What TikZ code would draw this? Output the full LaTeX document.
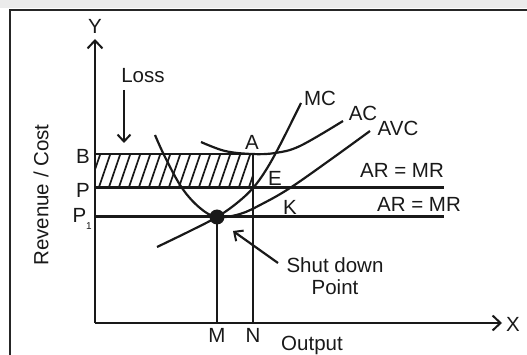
\documentclass[tikz,border=0pt]{standalone}
\usepackage{fontspec}
\setmainfont{Liberation Sans}
\usetikzlibrary{arrows.meta}
\begin{document}
\begin{tikzpicture}[x=1pt,y=-1pt,
  lbl/.style={font=\fontsize{20.5}{22}\selectfont, inner sep=0pt, text=black!90},
  axis/.style={line width=2.2pt, draw=black!90},
  level/.style={line width=3pt, draw=black!90},
  guide/.style={line width=2.2pt, draw=black!90},
  curve/.style={line width=2.2pt, draw=black!90},
  hatch/.style={line width=1.7pt, draw=black!90},
  barb/.style={-{Straight Barb[length=8pt,width=15pt,line width=2pt]}},
  pointer/.style={line width=2.2pt, draw=black!90, -{Straight Barb[length=7pt,width=13pt,line width=2pt]}}]
\useasboundingbox (0,0) rectangle (527,355);
\fill[black!8] (0,0) rectangle (527,8);
% frame
\draw[line width=2.6pt, black!85] (10,355) -- (10,10) -- (527,10);
% coordinates
\coordinate (O) at (95,323);
\coordinate (Ytop) at (95,39);
\coordinate (Xend) at (502,323);
\coordinate (Bl) at (95,154);
\coordinate (A) at (253,154);
\coordinate (Pl) at (95,188);
\coordinate (Pr) at (444,188);
\coordinate (P1l) at (95,217);
\coordinate (P1r) at (444,217);
\coordinate (S) at (217,217);
\coordinate (Mb) at (217,323);
\coordinate (Nb) at (253,323);
% hatched loss area
\begin{scope}
\clip (95,154) rectangle (253,188);
\foreach \i in {0,...,18} \draw[hatch] ({88+10*\i},190) -- ({88+10*\i+13},152);
\end{scope}
\draw[guide] (Bl) -- (A);
% axes
\draw[axis, barb] (O) -- (Ytop);
\draw[axis, barb] (O) -- (Xend);
% price lines
\draw[level] (Pl) -- (Pr);
\draw[level] (P1l) -- (P1r);
% verticals
\draw[guide] (S) -- (Mb);
\draw[guide] (A) -- (Nb);
% curves
\draw[curve] plot[smooth, tension=0.6] coordinates {(157,247) (190,231) (217,217) (237,203) (253,188) (266,170) (280,145) (301,103)};
\draw[curve] plot[smooth, tension=0.6] coordinates {(155,135) (165,157) (182,188) (200,208) (217,217) (240,214) (262,204) (290,188) (330,160) (370,131)};
\draw[curve] plot[smooth, tension=0.6] coordinates {(201,142) (225,151) (252,154) (275,153) (300,146) (343,121)};
\fill[black!90] (S) circle (7.5);
% labels
\node[lbl] (Y) at (95,26) {Y};
\node[lbl] (X) at (513,324) {X};
\node[lbl] (rc) at (41,195) [rotate=90] {Revenue / Cost};
\node[lbl, anchor=east] (B) at (90,156) {B};
\node[lbl, anchor=east] (P) at (90,190) {P};
\node[lbl, anchor=east] (P1) at (92,219) {P\raisebox{-0.6ex}{\fontsize{10}{11}\selectfont 1}};
\node[lbl] (M) at (217,335) {M};
\node[lbl] (N) at (253,335) {N};
\node[lbl] (out) at (312,345) {Output};
\node[lbl] (loss) at (143,76) {Loss};
\coordinate (lossS) at (124,90);
\coordinate (lossE) at (124,143);
\draw[pointer] (lossS) -- (lossE);
\node[lbl] (Al) at (252,142) {A};
\node[lbl] (El) at (275,178) {E};
\node[lbl] (Kl) at (290,207) {K};
\node[lbl] (MC) at (320,98) {MC};
\node[lbl] (AC) at (363,113) {AC};
\node[lbl] (AVC) at (398,128) {AVC};
\node[lbl] (ar1) at (402,170) {AR = MR};
\node[lbl] (ar2) at (419,204) {AR = MR};
\node[lbl] (sd) at (335,265) {Shut down};
\node[lbl] (pt) at (335,287) {Point};
\coordinate (sdS) at (278,263);
\coordinate (sdE) at (233,231);
\draw[pointer] (sdS) -- (sdE);
\end{tikzpicture}
\end{document}
